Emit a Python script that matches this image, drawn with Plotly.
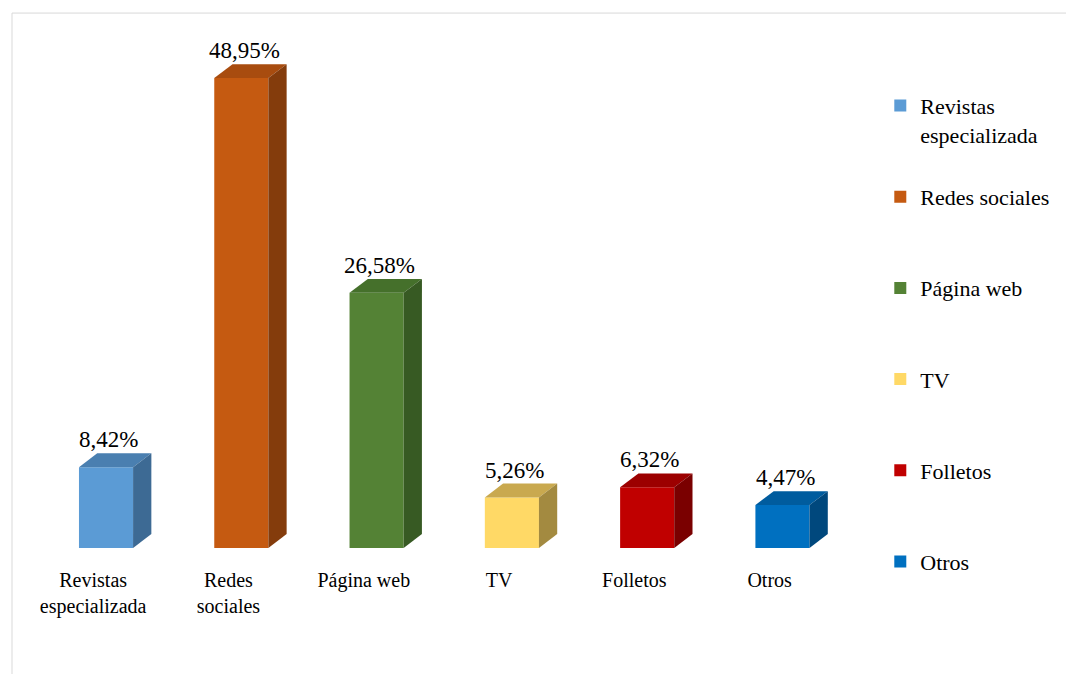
import plotly.graph_objects as go

# -----------------------------
# Data
# -----------------------------
categories = ["Revistas especializada", "Redes sociales", "Página web", "TV", "Folletos", "Otros"]
tick_labels = ["Revistas<br>especializada", "Redes<br>sociales", "Página web", "TV", "Folletos", "Otros"]
legend_labels = ["Revistas<br>especializada", "Redes sociales<br> ", "Página web<br> ", "TV<br> ", "Folletos<br> ", "Otros<br> "]
values = [8.42, 48.95, 26.58, 5.26, 6.32, 4.47]

front_colors = ["#5B9BD5", "#C55A11", "#548235", "#FFD966", "#C00000", "#0070C0"]
top_colors = ["#4A7FB0", "#A84C0F", "#45702B", "#C9A94F", "#9C0000", "#005C9E"]
side_colors = ["#3D6A94", "#843C0C", "#375A23", "#A38A40", "#7A0000", "#00487D"]

# geometry of the fake 3D look (in axis units)
BAR_W = 0.4
DEPTH_X = 0.135
DEPTH_Y = 1.45

FONT = "Liberation Serif, Times New Roman, serif"

fig = go.Figure()

xs = list(range(len(values)))

for i, (name, v) in enumerate(zip(legend_labels, values)):
    # front face
    fig.add_trace(go.Bar(
        x=[xs[i]], y=[v], width=BAR_W, name=name,
        marker=dict(color=front_colors[i], line=dict(width=0)),
        legendgroup=str(i), hoverinfo="skip",
    ))

for i, v in enumerate(values):
    x0 = xs[i] - BAR_W / 2
    x1 = xs[i] + BAR_W / 2
    # top face
    fig.add_trace(go.Scatter(
        x=[x0, x1, x1 + DEPTH_X, x0 + DEPTH_X, x0],
        y=[v, v, v + DEPTH_Y, v + DEPTH_Y, v],
        fill="toself", mode="lines", line=dict(width=0),
        fillcolor=top_colors[i], showlegend=False, hoverinfo="skip",
    ))
    # side face
    fig.add_trace(go.Scatter(
        x=[x1, x1 + DEPTH_X, x1 + DEPTH_X, x1, x1],
        y=[0, DEPTH_Y, v + DEPTH_Y, v, 0],
        fill="toself", mode="lines", line=dict(width=0),
        fillcolor=side_colors[i], showlegend=False, hoverinfo="skip",
    ))

# value labels
for i, v in enumerate(values):
    fig.add_annotation(
        x=xs[i] + 0.02, y=v + DEPTH_Y, text=f"{v:.2f}%".replace(".", ","),
        showarrow=False, yanchor="bottom", yshift=-1,
        font=dict(family=FONT, size=23, color="#000000"),
    )

# outer frame
fig.add_shape(type="rect", xref="paper", yref="paper",
              x0=0, x1=1.3, y0=-0.4, y1=1.053,
              line=dict(color="#D9D9D9", width=1), fillcolor="rgba(0,0,0,0)")

fig.update_layout(
    width=1074, height=674,
    margin=dict(l=4, r=212, t=32, b=134),
    paper_bgcolor="white", plot_bgcolor="white",
    barmode="overlay",
    font=dict(family=FONT, size=20, color="#000000"),
    xaxis=dict(
        range=[-0.695, 5.647],
        tickvals=[x - 0.095 for x in xs], ticktext=tick_labels,
        showgrid=False, zeroline=False, showline=False,
        ticks="", ticklabelstandoff=18,
        tickfont=dict(family=FONT, size=20, color="#000000"),
    ),
    yaxis=dict(
        range=[0, 52.92], showgrid=False, zeroline=False,
        showline=False, showticklabels=False, ticks="",
    ),
    legend=dict(
        x=1.012, xanchor="left", y=0.912, yanchor="top",
        valign="top", tracegroupgap=31, maxheight=640,
        font=dict(family=FONT, size=22, color="#000000"),
        bgcolor="rgba(0,0,0,0)",
    ),
    showlegend=True,
)

fig.write_html("out.html")
